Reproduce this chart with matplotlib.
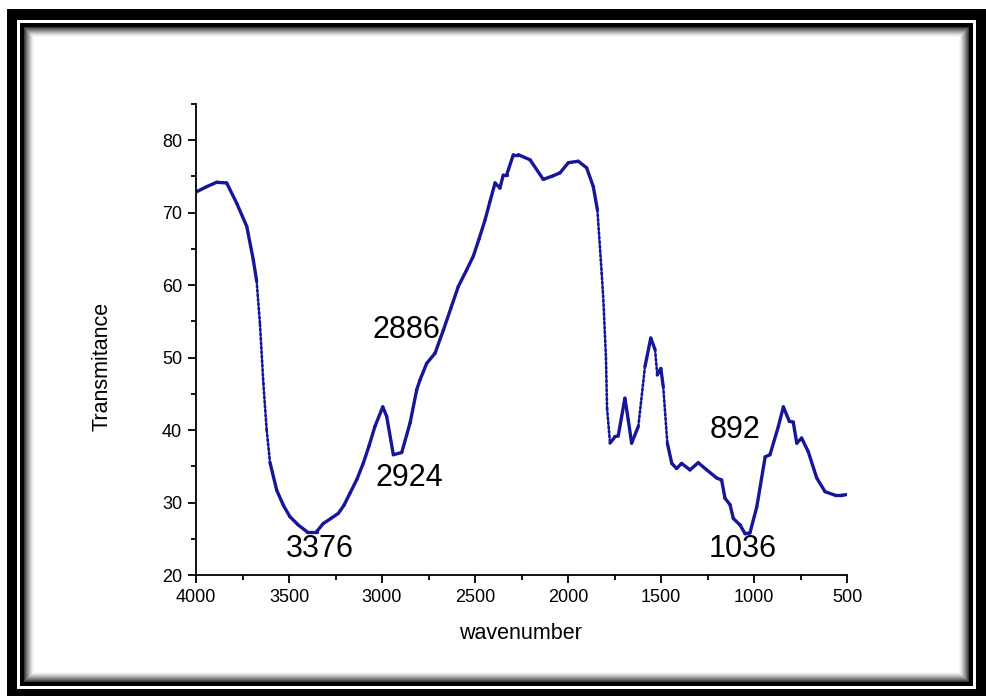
import numpy as np
import matplotlib.pyplot as plt
from matplotlib.patches import Rectangle
from matplotlib.collections import LineCollection
from matplotlib.ticker import MultipleLocator

plt.rcParams['font.family'] = ['Liberation Sans', 'DejaVu Sans']

# FTIR spectrum
wavenumber = [4000, 3942, 3889, 3835, 3781, 3727, 3692, 3674, 3656, 3638,
              3620, 3602, 3566, 3530, 3495, 3450, 3405, 3351, 3316, 3275,
              3235, 3205, 3172, 3135, 3101, 3070, 3038, 2996, 2975, 2939,
              2894, 2849, 2813, 2796, 2760, 2715, 2670, 2630, 2590, 2545,
              2509, 2478, 2446, 2420, 2392, 2366, 2348, 2330, 2294, 2267,
              2204, 2133, 2079, 2043, 1998, 1945, 1900, 1864, 1842, 1819,
              1810, 1796, 1790, 1774, 1747, 1730, 1694, 1676, 1658, 1622,
              1586, 1555, 1532, 1520, 1501, 1488, 1466, 1442, 1416, 1389,
              1344, 1300, 1254, 1201, 1174, 1156, 1129, 1111, 1075, 1048,
              1022, 985, 940, 914, 869, 842, 810, 789, 770, 744,
              708, 663, 618, 563, 529, 502]
transmitance = [72.85, 73.6, 74.2, 74.1, 71.3, 68.1, 63.5, 60.6, 54.6, 46.5,
                40.0, 35.5, 31.7, 29.6, 28.05, 26.9, 26.0, 26.0, 27.1, 27.8,
                28.5, 29.6, 31.3, 33.2, 35.4, 37.8, 40.5, 43.2, 41.9, 36.6,
                36.9, 41.0, 45.6, 46.9, 49.2, 50.6, 53.8, 56.8, 59.8, 62.1,
                64.0, 66.4, 69.0, 71.5, 74.1, 73.4, 75.2, 75.2, 78.0, 78.0,
                77.3, 74.6, 75.1, 75.5, 76.9, 77.1, 76.2, 73.6, 70.4, 61.7,
                58.0, 50.0, 43.0, 38.2, 39.1, 39.2, 44.4, 41.4, 38.2, 40.5,
                48.8, 52.7, 51.1, 47.6, 48.5, 46.0, 38.2, 35.4, 34.7, 35.4,
                34.5, 35.5, 34.5, 33.4, 33.1, 30.6, 29.7, 27.8, 26.9, 25.7,
                25.8, 29.4, 36.3, 36.6, 40.5, 43.2, 41.2, 41.1, 38.2, 38.9,
                37.0, 33.4, 31.5, 31.0, 31.0, 31.1]

# peak labels
peak_text = ['3376', '2924', '2886', '892', '1036']
peak_x = [3333, 2855, 2866, 1102, 1059]
peak_y = [23.6, 33.4, 53.8, 40.0, 23.6]

W, H = 987, 696
fig = plt.figure(figsize=(W / 100, H / 100), dpi=100)

def frame_rect(x0, y0, x1, y1, color, z):
    # pixel box (top-left origin) -> figure fraction
    r = Rectangle((x0 / W, 1 - y1 / H), (x1 - x0) / W, (y1 - y0) / H,
                  transform=fig.transFigure, facecolor=color,
                  edgecolor='none', zorder=z)
    fig.add_artist(r)

# black double frame with a soft inner shadow
frame_rect(7, 9, 987, 696, 'black', -20)
frame_rect(17, 20, 976, 689, 'white', -19)
frame_rect(20, 23, 973, 686, 'black', -18)
shades = ['#3a3a3a', '#555555', '#6e6e6e', '#868686', '#9d9d9d',
          '#b4b4b4', '#c9c9c9', '#dcdcdc', '#ececec', '#f7f7f7']
for i, c in enumerate(shades):
    frame_rect(24 + i, 27 + i, 969 - i, 682 - i, c, -17 + i)
frame_rect(34, 37, 959, 672, 'white', -5)

ax = fig.add_axes([196 / W, 1 - 575 / H, (847 - 196) / W, (575 - 104) / H])
ax.patch.set_alpha(0)

# steep stretches look dotted in the original (sparse points), rest solid
x = np.array(wavenumber, float)
y = np.array(transmitance, float)
segs = [[(x[i], y[i]), (x[i + 1], y[i + 1])] for i in range(len(x) - 1)]
steep = np.abs(np.diff(y)) / np.abs(np.diff(x)) > 0.2
styles = [(0, (0.8, 0.9)) if s else 'solid' for s in steep]
widths = [1.9 if s else 2.4 for s in steep]
lc = LineCollection(segs, colors='#16169a', linestyles=styles,
                    linewidths=widths, capstyle='round')
ax.add_collection(lc)

for t, px, py in zip(peak_text, peak_x, peak_y):
    ax.text(px, py, t, fontsize=22, ha='center', va='center', color='black')

ax.set_xlim(4000, 500)
ax.set_ylim(20, 85)
ax.xaxis.set_major_locator(MultipleLocator(500))
ax.xaxis.set_minor_locator(MultipleLocator(250))
ax.yaxis.set_minor_locator(MultipleLocator(5))
ax.set_yticks([20, 30, 40, 50, 60, 70, 80])

for s in ['top', 'right']:
    ax.spines[s].set_visible(False)
for s in ['left', 'bottom']:
    ax.spines[s].set_linewidth(1.3)

ax.tick_params(which='major', direction='out', length=6, width=1.3,
               labelsize=13, pad=4)
ax.tick_params(which='minor', direction='out', length=3.8, width=1.3)

ax.set_xlabel('wavenumber', fontsize=15.5)
ax.set_ylabel('Transmitance', fontsize=15.5)
ax.xaxis.set_label_coords(0.499, -0.102)
ax.yaxis.set_label_coords(-0.129, 0.442)

plt.savefig('out.png', dpi=100)
